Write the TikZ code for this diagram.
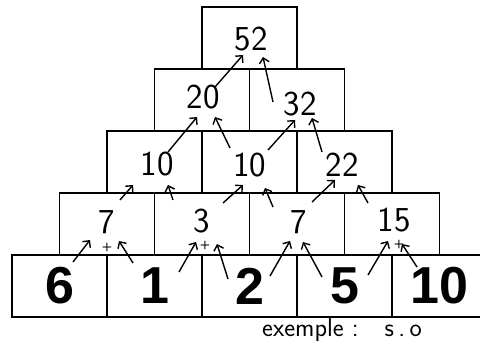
\documentclass[tikz,border=0pt]{standalone}
\usepackage{fontspec}
\newfontfamily\basefont{Liberation Sans}
\usetikzlibrary{arrows.meta, calc}

\begin{document}
\begin{tikzpicture}[
    x=1pt, y=-1pt,
    box/.style={draw, line width=1.4pt, minimum width=95pt, minimum height=62pt, inner sep=0pt},
    base/.style={box, font=\basefont\bfseries\fontsize{52}{52}\selectfont},
    hand/.style={font=\sffamily\fontsize{35}{35}\selectfont, inner sep=0pt},
    plus/.style={font=\sffamily\bfseries\fontsize{12}{12}\selectfont, inner sep=0pt},
    note/.style={font=\sffamily\fontsize{26}{26}\selectfont, inner sep=0pt},
    arr/.style={-{Straight Barb[length=5pt, width=10pt]}, line width=1.4pt},
]
\useasboundingbox (0,0) rectangle (480,347);

% ROW 1: the given numbers
\node[base] (b6) at (59.5,286) {6};
\node[base] (b1) at (154.5,286) {1};
\node[base] (b2) at (249.5,286) {2};
\node[base] (b5) at (344.5,286) {5};
\node[base] (b10) at (439.5,286) {10};

% Empty boxes of the upper rows
\node[box] (c21) at (107,224) {};
\node[box] (c22) at (202,224) {};
\node[box] (c23) at (297,224) {};
\node[box] (c24) at (392,224) {};
\node[box] (c31) at (154.5,162) {};
\node[box] (c32) at (249.5,162) {};
\node[box] (c33) at (344.5,162) {};
\node[box] (c41) at (202,100) {};
\node[box] (c42) at (297,100) {};
\node[box] (c51) at (249.5,38) {};

% ROW 2: sums of neighbours
\node[hand] (s7l) at (107,222) {7};
\node[hand] (s3) at (202,221) {3};
\node[hand] (s7r) at (299,222) {7};
\node[hand] (s15) at (394,220) {15};
\node[plus] (p7l) at (107,248) {+};
\node[plus] (p3) at (205,246) {+};
\node[plus] (p15) at (399,245) {+};

% ROW 3
\node[hand] (m10l) at (157,164) {10};
\node[hand] (m10r) at (249.5,165) {10};
\node[hand] (m22) at (342,165) {22};

% ROW 4
\node[hand] (h20) at (203,97) {20};
\node[hand] (h32) at (300,104) {32};

% TOP
\node[hand] (top) at (251,39) {52};

\node[note, anchor=base west] (ex) at (262,337) {exemple :\hspace{26pt}s\,.\,o};

% Arrows row 1 -> row 2
\draw[arr] ($(b6)+(13.5,-24)$) -- ($(s7l)+(-17,18)$);
\draw[arr] ($(b1)+(-21.5,-23)$) -- ($(s7l)+(12,19)$);
\draw[arr] ($(b1)+(24.5,-14)$) -- ($(s3)+(-6,21)$);
\draw[arr] ($(b2)+(-21.5,-7)$) -- ($(s3)+(15,23)$);
\draw[arr] ($(b2)+(20.5,-10)$) -- ($(s7r)+(-9,19)$);
\draw[arr] ($(b5)+(-22.5,-9)$) -- ($(s7r)+(4,20)$);
\draw[arr] ($(b5)+(23.5,-11)$) -- ($(s15)+(-6,21)$);
\draw[arr] ($(b10)+(-22.5,-19)$) -- ($(s15)+(8,24)$);

% Arrows row 2 -> row 3
\draw[arr] ($(s7l)+(13,-22)$) -- ($(m10l)+(-24,21)$);
\draw[arr] ($(s3)+(-29,-21)$) -- ($(m10l)+(11,21)$);
\draw[arr] ($(s3)+(21,-18)$) -- ($(m10r)+(-6.5,20)$);
\draw[arr] ($(s7r)+(-26,-15)$) -- ($(m10r)+(15.5,23)$);
\draw[arr] ($(s7r)+(13,-20)$) -- ($(m22)+(-7,15)$);
\draw[arr] ($(s15)+(-26,-17)$) -- ($(m22)+(16,20)$);

% Arrows row 3 -> row 4
\draw[arr] ($(m10l)+(11,-12)$) -- ($(h20)+(-6,20)$);
\draw[arr] ($(m10r)+(-19.5,-17)$) -- ($(h20)+(12,20)$);
\draw[arr] ($(m10r)+(18.5,-15)$) -- ($(h32)+(-5,16)$);
\draw[arr] ($(m22)+(-20,-13)$) -- ($(h32)+(12,14)$);

% Arrows row 4 -> top
\draw[arr] ($(h20)+(12,-10)$) -- ($(top)+(-8,16)$);
\draw[arr] ($(h32)+(-27,-2)$) -- ($(top)+(12,18)$);

\end{tikzpicture}
\end{document}
